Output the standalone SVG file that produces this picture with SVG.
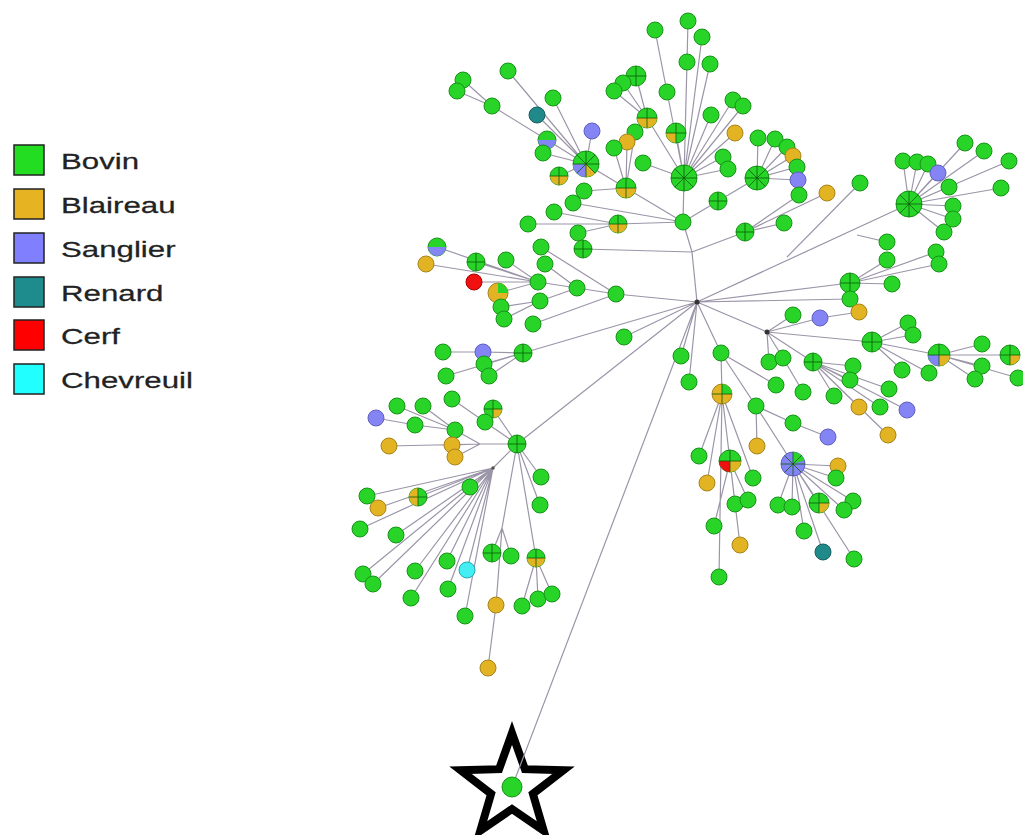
<svg xmlns="http://www.w3.org/2000/svg" width="1023" height="835" viewBox="0 0 1023 835">
<style>
.e{fill:none;stroke:#9b95a8;stroke-width:1.2}
.g{fill:#27d427;stroke:#179317;stroke-width:1}
.o{fill:#e2b322;stroke:#a8841a;stroke-width:1}
.p{fill:#8484f4;stroke:#6060c0;stroke-width:1}
.t{fill:#208a8a;stroke:#15605f;stroke-width:1}
.r{fill:#f01010;stroke:#a00;stroke-width:1}
.c{fill:#44eef2;stroke:#22a8b0;stroke-width:1}
.so{fill:#e2b322;stroke:none}
.sp2{fill:#8484f4;stroke:none}
.sr{fill:#f01010;stroke:none}
.sg{fill:#27d427;stroke:none}
.k{fill:none;stroke:#0b5a0b;stroke-width:0.8}
.lg{stroke:#222;stroke-width:1.5}
.lt{font-family:"Liberation Sans",Arial,sans-serif;font-size:22px;fill:#222;stroke:#222;stroke-width:0.25}
</style>
<rect width="1023" height="835" fill="#fff"/>
<g id="legend">
<rect class="lg" x="14" y="145" width="30" height="30" fill="#22dd22"/>
<rect class="lg" x="14" y="189" width="30" height="30" fill="#e6b422"/>
<rect class="lg" x="14" y="233" width="30" height="30" fill="#8080ff"/>
<rect class="lg" x="14" y="277" width="30" height="30" fill="#1e8c8c"/>
<rect class="lg" x="14" y="320" width="30" height="30" fill="#ff0000"/>
<rect class="lg" x="14" y="364" width="30" height="30" fill="#22ffff"/>
<g transform="translate(61,0) scale(1.42,1)">
<text class="lt" x="0" y="169">Bovin</text>
<text class="lt" x="0" y="213">Blaireau</text>
<text class="lt" x="0" y="257">Sanglier</text>
<text class="lt" x="0" y="301">Renard</text>
<text class="lt" x="0" y="344">Cerf</text>
<text class="lt" x="0" y="388">Chevreuil</text>
</g>
</g>
<g id="star">
<polygon points="512,733 524.9,769.2 563.4,770.3 532.9,793.8 543.7,830.7 512,809 480.3,830.7 491.1,793.8 460.6,770.3 499.1,769.2" fill="#fff" stroke="#000" stroke-width="8" stroke-linejoin="miter"/>
</g>
<g id="connectors">
<path class="e" d="M697 302L692 252M692 252L683 222M692 252L583 249M692 252L745 232M683 222L684 178M683 222L626 188M683 222L573 203M683 222L618 224M683 222L718 201M718 201L757 178M745 232L784 223M745 232L799 195M745 232L827 193M697 302L616 294M697 302L909 204M787 257L860 183M857 235L887 242M697 302L850 283M697 302L850 299M697 302L767 332M697 302L624 337M697 302L523 353M697 302L517 444M697 302L512 787M697 302L681 356M697 302L689 382M697 302L721 353
M684 178L667 92L655 30M684 178L687 62L688 21M684 178L702 37M684 178L710 64M684 178L711 115M684 178L733 100M684 178L743 106M684 178L735 133M684 178L723 157M684 178L728 169M684 178L676 133M684 178L647 118M684 178L643 163M647 118L636 76M647 118L623 83M647 118L614 91
M757 178L758 138M757 178L775 139M757 178L787 147M757 178L793 156M757 178L797 167M757 178L798 180
M626 188L586 164M626 188L635 132M626 188L627 142M626 188L614 148M626 188L584 191
M586 164L492 106L463 80M492 106L457 91M586 164L508 71M586 164L553 98M586 164L537 115M586 164L592 131M586 164L547 140M586 164L543 153M586 164L559 176
M618 224L554 212M618 224L528 224M618 224L578 233
M616 294L577 288L538 282M577 288L545 264M577 288L540 301M616 294L541 247M616 294L533 324M538 282L437 247M538 282L426 264M538 282L476 262M538 282L506 260M538 282L474 282M538 282L498 293M540 301L501 307M540 301L504 319
M523 353L483 352L443 352M523 353L484 364M523 353L446 376M523 353L489 376
M517 444L480 444M480 444L455 430M480 444L452 445M480 444L389 446M480 444L455 457M455 430L415 425L376 418M455 430L397 406M455 430L423 406M517 444L485 422L452 399M517 444L493 409M517 444L541 477M517 444L540 505M517 444L536 558M517 444L493 468
M493 468L367 496M493 468L418 497M493 468L378 508M493 468L470 487M493 468L360 529M493 468L396 535M493 468L363 574M493 468L373 584M493 468L415 571M493 468L447 561M493 468L467 570M493 468L448 589M493 468L411 598M493 468L465 616
M517 444L502 528M502 528L492 553M502 528L511 556M502 528L496 605L488 668M536 558L538 599M536 558L552 594M536 558L522 606
M850 283L892 284M850 283L887 260M850 283L936 252M850 283L939 264
M909 204L903 161M909 204L917 162M909 204L928 164M909 204L938 173M909 204L965 143M909 204L984 151M909 204L1009 161M909 204L949 187M909 204L1001 188M909 204L953 206M909 204L953 219M909 204L944 232
M767 332L793 315M767 332L820 318L859 312M767 332L872 342M872 342L908 323M872 342L913 335M872 342L939 355M872 342L902 370M872 342L929 373M939 355L982 344M939 355L1010 355M939 355L982 366M939 355L975 379M939 355L1018 378
M767 332L769 362M767 332L783 358M767 332L813 362M813 362L853 366M813 362L850 380M813 362L889 389M813 362L834 396M813 362L880 407M813 362L859 407M813 362L907 410M813 362L888 435M783 358L803 392
M721 353L722 394M721 353L776 385M721 353L756 406L793 423L828 437M756 406L757 446M756 406L793 464
M722 394L699 456M722 394L707 483M722 394L730 461M722 394L753 478M722 394L719 577M730 461L735 504M730 461L748 500M730 461L740 545M730 461L714 526
M793 464L838 466M793 464L836 478M793 464L778 505M793 464L792 507M793 464L819 503M793 464L853 501M793 464L844 510M793 464L804 531M793 464L823 552M793 464L854 559"/>
<circle cx="697" cy="302" r="2.5" fill="#333"/>
<circle cx="767" cy="332" r="2.5" fill="#333"/>
<circle cx="493" cy="468" r="1.8" fill="#555"/>
</g>
<g id="nodes">
<g id="n1"><circle class="g" cx="655" cy="30" r="8"/></g>
<g id="n2"><circle class="g" cx="688" cy="21" r="8"/></g>
<g id="n3"><circle class="g" cx="702" cy="37" r="8"/></g>
<g id="n4"><circle class="g" cx="687" cy="62" r="8"/></g>
<g id="n5"><circle class="g" cx="710" cy="64" r="8"/></g>
<g id="n6"><circle class="g" cx="636" cy="76" r="10"/><path class="k" d="M636 66V86M626 76H646"/></g>
<g id="n7"><circle class="g" cx="623" cy="83" r="8"/></g>
<g id="n8"><circle class="g" cx="614" cy="91" r="8"/></g>
<g id="n9"><circle class="g" cx="667" cy="92" r="8"/></g>
<g id="n10"><circle class="g" cx="647" cy="118" r="10"/><path class="so" d="M637 118A10 10 0 0 0 657 118Z"/><path class="k" d="M647 108V128M637 118H657"/></g>
<g id="n11"><circle class="g" cx="711" cy="115" r="8"/></g>
<g id="n12"><circle class="g" cx="733" cy="100" r="8"/></g>
<g id="n13"><circle class="g" cx="743" cy="106" r="8"/></g>
<g id="n14"><circle class="o" cx="735" cy="133" r="8"/></g>
<g id="n15"><circle class="g" cx="758" cy="138" r="8"/></g>
<g id="n16"><circle class="g" cx="775" cy="139" r="8"/></g>
<g id="n17"><circle class="g" cx="787" cy="147" r="8"/></g>
<g id="n18"><circle class="o" cx="793" cy="156" r="8"/></g>
<g id="n19"><circle class="g" cx="797" cy="167" r="8"/></g>
<g id="n20"><circle class="p" cx="798" cy="180" r="8"/></g>
<g id="n21"><circle class="g" cx="799" cy="195" r="8"/></g>
<g id="n22"><circle class="o" cx="827" cy="193" r="8"/></g>
<g id="n23"><circle class="g" cx="676" cy="133" r="10"/><path class="so" d="M676 133L666 133A10 10 0 0 0 676 143Z"/><path class="k" d="M676 123V143M666 133H686"/></g>
<g id="n24"><circle class="g" cx="635" cy="132" r="8"/></g>
<g id="n25"><circle class="o" cx="627" cy="142" r="8"/></g>
<g id="n26"><circle class="g" cx="614" cy="148" r="8"/></g>
<g id="n27"><circle class="g" cx="643" cy="163" r="8"/></g>
<g id="n28"><circle class="g" cx="723" cy="157" r="8"/></g>
<g id="n29"><circle class="g" cx="728" cy="169" r="8"/></g>
<g id="n30"><circle class="g" cx="684" cy="178" r="13"/><path class="k" d="M684 165V191M671 178H697M674.8 168.8L693.2 187.2M674.8 187.2L693.2 168.8"/></g>
<g id="n31"><circle class="g" cx="757" cy="178" r="12"/><path class="k" d="M757 166V190M745 178H769M748.5 169.5L765.5 186.5M748.5 186.5L765.5 169.5"/></g>
<g id="n32"><circle class="g" cx="626" cy="188" r="10"/><path class="so" d="M616 188A10 10 0 0 0 636 188Z"/><path class="k" d="M626 178V198M616 188H636"/></g>
<g id="n33"><circle class="g" cx="718" cy="201" r="9"/><path class="k" d="M718 192V210M709 201H727"/></g>
<g id="n34"><circle class="g" cx="683" cy="222" r="8"/></g>
<g id="n35"><circle class="g" cx="745" cy="232" r="9"/><path class="k" d="M745 223V241M736 232H754"/></g>
<g id="n36"><circle class="g" cx="784" cy="223" r="8"/></g>
<g id="n37"><circle class="g" cx="860" cy="183" r="8"/></g>
<g id="n38"><circle class="p" cx="592" cy="131" r="8"/></g>
<g id="n39"><circle class="g" cx="463" cy="80" r="8"/></g>
<g id="n40"><circle class="g" cx="457" cy="91" r="8"/></g>
<g id="n41"><circle class="g" cx="508" cy="71" r="8"/></g>
<g id="n42"><circle class="g" cx="492" cy="106" r="8"/></g>
<g id="n43"><circle class="g" cx="553" cy="98" r="8"/></g>
<g id="n44"><circle class="t" cx="537" cy="115" r="8"/></g>
<g id="n45"><circle class="g" cx="547" cy="140" r="9"/><path class="sp2" d="M538 140A9 9 0 0 0 556 140Z"/></g>
<g id="n46"><circle class="g" cx="543" cy="153" r="8"/></g>
<g id="n47"><circle class="g" cx="586" cy="164" r="13"/><path class="sp2" d="M586 164L573 164A13 13 0 0 0 586 177Z"/><path class="so" d="M586 164L586 177A13 13 0 0 0 595.2 173.2Z"/><path class="k" d="M586 151V177M573 164H599M576.8 154.8L595.2 173.2M576.8 173.2L595.2 154.8"/></g>
<g id="n48"><circle class="g" cx="559" cy="176" r="9"/><path class="so" d="M550 176A9 9 0 0 0 568 176Z"/><path class="k" d="M559 167V185M550 176H568"/></g>
<g id="n49"><circle class="g" cx="584" cy="191" r="8"/></g>
<g id="n50"><circle class="g" cx="573" cy="203" r="8"/></g>
<g id="n51"><circle class="g" cx="554" cy="212" r="8"/></g>
<g id="n52"><circle class="g" cx="528" cy="224" r="8"/></g>
<g id="n53"><circle class="g" cx="618" cy="224" r="9"/><path class="so" d="M609 224A9 9 0 0 0 627 224Z"/><path class="k" d="M618 215V233M609 224H627"/></g>
<g id="n54"><circle class="g" cx="578" cy="233" r="8"/></g>
<g id="n55"><circle class="g" cx="583" cy="249" r="9"/><path class="k" d="M583 240V258M574 249H592"/></g>
<g id="n56"><circle class="g" cx="437" cy="247" r="9"/><path class="sp2" d="M428 247A9 9 0 0 0 446 247Z"/></g>
<g id="n57"><circle class="o" cx="426" cy="264" r="8"/></g>
<g id="n58"><circle class="g" cx="476" cy="262" r="9"/><path class="k" d="M476 253V271M467 262H485"/></g>
<g id="n59"><circle class="g" cx="506" cy="260" r="8"/></g>
<g id="n60"><circle class="g" cx="541" cy="247" r="8"/></g>
<g id="n61"><circle class="g" cx="545" cy="264" r="8"/></g>
<g id="n62"><circle class="r" cx="474" cy="282" r="8"/></g>
<g id="n63"><circle class="g" cx="538" cy="282" r="8"/></g>
<g id="n64"><circle class="g" cx="577" cy="288" r="8"/></g>
<g id="n65"><circle class="g" cx="616" cy="294" r="8"/></g>
<g id="n66"><circle class="o" cx="498" cy="293" r="10"/><path class="sg" d="M498 293L498 283A10 10 0 0 1 508 293Z"/></g>
<g id="n67"><circle class="g" cx="540" cy="301" r="8"/></g>
<g id="n68"><circle class="g" cx="501" cy="307" r="8"/></g>
<g id="n69"><circle class="g" cx="504" cy="319" r="8"/></g>
<g id="n70"><circle class="g" cx="533" cy="324" r="8"/></g>
<g id="n71"><circle class="g" cx="624" cy="337" r="8"/></g>
<g id="n72"><circle class="g" cx="443" cy="352" r="8"/></g>
<g id="n73"><circle class="p" cx="483" cy="352" r="8"/></g>
<g id="n74"><circle class="g" cx="523" cy="353" r="9"/><path class="k" d="M523 344V362M514 353H532"/></g>
<g id="n75"><circle class="g" cx="484" cy="364" r="8"/></g>
<g id="n76"><circle class="g" cx="446" cy="376" r="8"/></g>
<g id="n77"><circle class="g" cx="489" cy="376" r="8"/></g>
<g id="n78"><circle class="g" cx="681" cy="356" r="8"/></g>
<g id="n79"><circle class="g" cx="689" cy="382" r="8"/></g>
<g id="n80"><circle class="g" cx="397" cy="406" r="8"/></g>
<g id="n81"><circle class="g" cx="423" cy="406" r="8"/></g>
<g id="n82"><circle class="g" cx="452" cy="399" r="8"/></g>
<g id="n83"><circle class="g" cx="493" cy="409" r="9"/><path class="so" d="M493 409L502 409A9 9 0 0 1 493 418Z"/><path class="k" d="M493 400V418M484 409H502"/></g>
<g id="n84"><circle class="g" cx="485" cy="422" r="8"/></g>
<g id="n85"><circle class="p" cx="376" cy="418" r="8"/></g>
<g id="n86"><circle class="g" cx="415" cy="425" r="8"/></g>
<g id="n87"><circle class="g" cx="455" cy="430" r="8"/></g>
<g id="n88"><circle class="o" cx="452" cy="445" r="8"/></g>
<g id="n89"><circle class="o" cx="389" cy="446" r="8"/></g>
<g id="n90"><circle class="o" cx="455" cy="457" r="8"/></g>
<g id="n91"><circle class="g" cx="517" cy="444" r="9"/><path class="k" d="M517 435V453M508 444H526"/></g>
<g id="n92"><circle class="g" cx="541" cy="477" r="8"/></g>
<g id="n93"><circle class="g" cx="540" cy="505" r="8"/></g>
<g id="n94"><circle class="g" cx="367" cy="496" r="8"/></g>
<g id="n95"><circle class="g" cx="418" cy="497" r="9"/><path class="so" d="M418 488A9 9 0 0 0 418 506Z"/><path class="k" d="M418 488V506M409 497H427"/></g>
<g id="n96"><circle class="o" cx="378" cy="508" r="8"/></g>
<g id="n97"><circle class="g" cx="470" cy="487" r="8"/></g>
<g id="n98"><circle class="g" cx="360" cy="529" r="8"/></g>
<g id="n99"><circle class="g" cx="396" cy="535" r="8"/></g>
<g id="n100"><circle class="g" cx="492" cy="553" r="9"/><path class="k" d="M492 544V562M483 553H501"/></g>
<g id="n101"><circle class="g" cx="511" cy="556" r="8"/></g>
<g id="n102"><circle class="g" cx="536" cy="558" r="9"/><path class="so" d="M527 558A9 9 0 0 0 545 558Z"/><path class="k" d="M536 549V567M527 558H545"/></g>
<g id="n103"><circle class="g" cx="363" cy="574" r="8"/></g>
<g id="n104"><circle class="g" cx="373" cy="584" r="8"/></g>
<g id="n105"><circle class="g" cx="415" cy="571" r="8"/></g>
<g id="n106"><circle class="g" cx="447" cy="561" r="8"/></g>
<g id="n107"><circle class="c" cx="467" cy="570" r="8"/></g>
<g id="n108"><circle class="g" cx="448" cy="589" r="8"/></g>
<g id="n109"><circle class="g" cx="411" cy="598" r="8"/></g>
<g id="n110"><circle class="g" cx="465" cy="616" r="8"/></g>
<g id="n111"><circle class="o" cx="496" cy="605" r="8"/></g>
<g id="n112"><circle class="g" cx="522" cy="606" r="8"/></g>
<g id="n113"><circle class="g" cx="538" cy="599" r="8"/></g>
<g id="n114"><circle class="g" cx="552" cy="594" r="8"/></g>
<g id="n115"><circle class="o" cx="488" cy="668" r="8"/></g>
<g id="n116"><circle class="g" cx="512" cy="787" r="10"/></g>
<g id="n117"><circle class="g" cx="903" cy="161" r="8"/></g>
<g id="n118"><circle class="g" cx="917" cy="162" r="8"/></g>
<g id="n119"><circle class="g" cx="928" cy="164" r="8"/></g>
<g id="n120"><circle class="p" cx="938" cy="173" r="8"/></g>
<g id="n121"><circle class="g" cx="965" cy="143" r="8"/></g>
<g id="n122"><circle class="g" cx="984" cy="151" r="8"/></g>
<g id="n123"><circle class="g" cx="1009" cy="161" r="8"/></g>
<g id="n124"><circle class="g" cx="949" cy="187" r="8"/></g>
<g id="n125"><circle class="g" cx="1001" cy="188" r="8"/></g>
<g id="n126"><circle class="g" cx="953" cy="206" r="8"/></g>
<g id="n127"><circle class="g" cx="953" cy="219" r="8"/></g>
<g id="n128"><circle class="g" cx="944" cy="232" r="8"/></g>
<g id="n129"><circle class="g" cx="909" cy="204" r="13"/><path class="k" d="M909 191V217M896 204H922M899.8 194.8L918.2 213.2M899.8 213.2L918.2 194.8"/></g>
<g id="n130"><circle class="g" cx="887" cy="242" r="8"/></g>
<g id="n131"><circle class="g" cx="887" cy="260" r="8"/></g>
<g id="n132"><circle class="g" cx="936" cy="252" r="8"/></g>
<g id="n133"><circle class="g" cx="939" cy="264" r="8"/></g>
<g id="n134"><circle class="g" cx="850" cy="283" r="10"/><path class="k" d="M850 273V293M840 283H860"/></g>
<g id="n135"><circle class="g" cx="892" cy="284" r="8"/></g>
<g id="n136"><circle class="g" cx="850" cy="299" r="8"/></g>
<g id="n137"><circle class="o" cx="859" cy="312" r="8"/></g>
<g id="n138"><circle class="p" cx="820" cy="318" r="8"/></g>
<g id="n139"><circle class="g" cx="793" cy="315" r="8"/></g>
<g id="n140"><circle class="g" cx="872" cy="342" r="10"/><path class="k" d="M872 332V352M862 342H882"/></g>
<g id="n141"><circle class="g" cx="908" cy="323" r="8"/></g>
<g id="n142"><circle class="g" cx="913" cy="335" r="8"/></g>
<g id="n143"><circle class="g" cx="939" cy="355" r="11"/><path class="sp2" d="M939 355L928 355A11 11 0 0 0 939 366Z"/><path class="so" d="M939 355L939 366A11 11 0 0 0 950 355Z"/><path class="k" d="M939 344V366M928 355H950"/></g>
<g id="n144"><circle class="g" cx="982" cy="344" r="8"/></g>
<g id="n145"><circle class="g" cx="1010" cy="355" r="10"/><path class="so" d="M1010 355L1020 355A10 10 0 0 1 1010 365Z"/><path class="k" d="M1010 345V365M1000 355H1020"/></g>
<g id="n146"><circle class="g" cx="982" cy="366" r="8"/></g>
<g id="n147"><circle class="g" cx="975" cy="379" r="8"/></g>
<g id="n148"><circle class="g" cx="1018" cy="378" r="8"/></g>
<g id="n149"><circle class="g" cx="902" cy="370" r="8"/></g>
<g id="n150"><circle class="g" cx="929" cy="373" r="8"/></g>
<g id="n151"><circle class="g" cx="769" cy="362" r="8"/></g>
<g id="n152"><circle class="g" cx="783" cy="358" r="8"/></g>
<g id="n153"><circle class="g" cx="813" cy="362" r="9"/><path class="k" d="M813 353V371M804 362H822"/></g>
<g id="n154"><circle class="g" cx="853" cy="366" r="8"/></g>
<g id="n155"><circle class="g" cx="850" cy="380" r="8"/></g>
<g id="n156"><circle class="g" cx="889" cy="389" r="8"/></g>
<g id="n157"><circle class="g" cx="834" cy="396" r="8"/></g>
<g id="n158"><circle class="g" cx="880" cy="407" r="8"/></g>
<g id="n159"><circle class="o" cx="859" cy="407" r="8"/></g>
<g id="n160"><circle class="p" cx="907" cy="410" r="8"/></g>
<g id="n161"><circle class="o" cx="888" cy="435" r="8"/></g>
<g id="n162"><circle class="g" cx="803" cy="392" r="8"/></g>
<g id="n163"><circle class="g" cx="776" cy="385" r="8"/></g>
<g id="n164"><circle class="g" cx="721" cy="353" r="8"/></g>
<g id="n165"><circle class="o" cx="722" cy="394" r="10"/><path class="sg" d="M722 394L722 384A10 10 0 0 1 732 394Z"/><path class="k" d="M722 384V404M712 394H732"/></g>
<g id="n166"><circle class="g" cx="756" cy="406" r="8"/></g>
<g id="n167"><circle class="g" cx="793" cy="423" r="8"/></g>
<g id="n168"><circle class="p" cx="828" cy="437" r="8"/></g>
<g id="n169"><circle class="o" cx="757" cy="446" r="8"/></g>
<g id="n170"><circle class="g" cx="699" cy="456" r="8"/></g>
<g id="n171"><circle class="g" cx="730" cy="461" r="11"/><path class="sr" d="M730 461L719 461A11 11 0 0 0 730 472Z"/><path class="so" d="M730 461L730 472A11 11 0 0 0 741 461Z"/><path class="k" d="M730 450V472M719 461H741"/></g>
<g id="n172"><circle class="o" cx="707" cy="483" r="8"/></g>
<g id="n173"><circle class="g" cx="753" cy="478" r="8"/></g>
<g id="n174"><circle class="g" cx="735" cy="504" r="8"/></g>
<g id="n175"><circle class="g" cx="748" cy="500" r="8"/></g>
<g id="n176"><circle class="g" cx="714" cy="526" r="8"/></g>
<g id="n177"><circle class="o" cx="740" cy="545" r="8"/></g>
<g id="n178"><circle class="g" cx="719" cy="577" r="8"/></g>
<g id="n179"><circle class="p" cx="793" cy="464" r="12"/><path class="sg" d="M793 464L793 452A12 12 0 0 1 804.4 460.3Z"/><path class="k" d="M793 452V476M781 464H805M784.5 455.5L801.5 472.5M784.5 472.5L801.5 455.5"/></g>
<g id="n180"><circle class="o" cx="838" cy="466" r="8"/></g>
<g id="n181"><circle class="g" cx="836" cy="478" r="8"/></g>
<g id="n182"><circle class="g" cx="778" cy="505" r="8"/></g>
<g id="n183"><circle class="g" cx="792" cy="507" r="8"/></g>
<g id="n184"><circle class="g" cx="819" cy="503" r="10"/><path class="so" d="M819 503L829 503A10 10 0 0 1 819 513Z"/><path class="k" d="M819 493V513M809 503H829"/></g>
<g id="n185"><circle class="g" cx="853" cy="501" r="8"/></g>
<g id="n186"><circle class="g" cx="844" cy="510" r="8"/></g>
<g id="n187"><circle class="g" cx="804" cy="531" r="8"/></g>
<g id="n188"><circle class="t" cx="823" cy="552" r="8"/></g>
<g id="n189"><circle class="g" cx="854" cy="559" r="8"/></g>
</g>
</svg>
